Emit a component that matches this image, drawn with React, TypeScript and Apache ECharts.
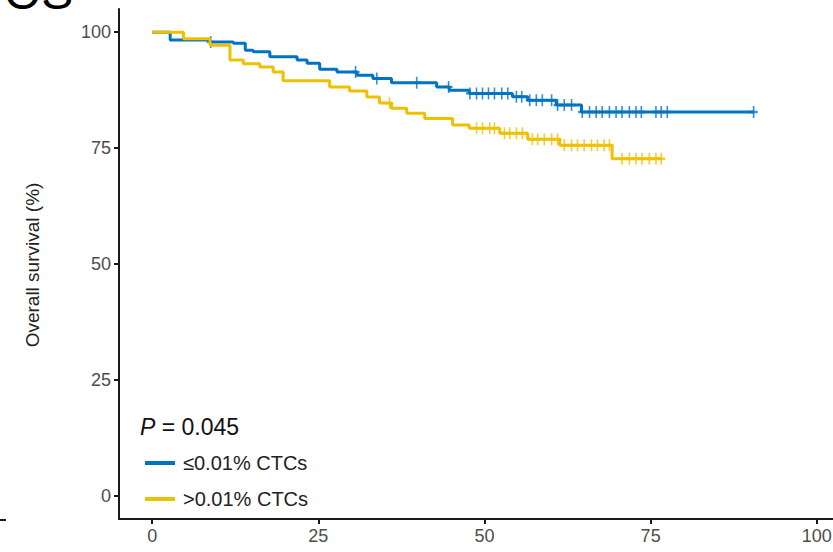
import React, { useEffect, useRef } from "react";
import * as echarts from "echarts";

// Kaplan–Meier steps: time (months) at which survival drops, and survival (%) after the drop
const lowTimes = [0, 2.7, 8.7, 12.2, 14.0, 15.2, 17.7, 21.8, 23.3, 25.2, 27.8, 30.8, 33.2, 36.0, 42.8, 44.7, 47.7, 54.2, 56.5, 60.8, 64.6];
const lowSurv = [100, 98.3, 97.9, 97.6, 96.1, 95.8, 94.7, 94.0, 93.3, 92.0, 91.4, 90.7, 90.0, 89.1, 88.2, 87.5, 86.8, 86.1, 85.3, 84.3, 82.8];
const lowLastTime = 90.5;
const lowCensor = [8.8, 30.6, 33.8, 39.8, 44.6, 47.8, 48.8, 49.7, 50.6, 51.5, 52.6, 53.5, 54.8, 55.6, 56.8, 57.8, 58.7, 60.1, 61.0, 62.0, 63.1, 64.7, 65.8, 66.8, 67.7, 68.8, 69.8, 70.7, 71.8, 72.8, 73.6, 75.8, 76.6, 77.5, 90.5];

const highTimes = [0, 4.7, 8.7, 11.7, 13.7, 16.2, 18.2, 19.7, 26.7, 29.7, 32.3, 34.2, 36.0, 38.3, 41.0, 45.2, 47.7, 52.3, 56.5, 61.3, 69.2];
const highSurv = [100, 98.6, 97.2, 94.0, 93.2, 92.5, 91.4, 89.5, 88.2, 87.3, 86.0, 84.7, 83.6, 82.5, 81.4, 80.0, 79.3, 78.2, 76.9, 75.6, 72.7];
const highLastTime = 76.7;
const highCensor = [35.7, 48.8, 49.7, 50.8, 51.5, 53.0, 53.8, 54.8, 55.7, 57.2, 58.0, 59.0, 60.1, 61.0, 62.0, 63.1, 64.0, 65.0, 66.1, 67.0, 68.0, 68.8, 70.7, 71.8, 72.8, 73.7, 74.8, 75.8, 76.6];

const groupNames = ["≤0.01% CTCs", ">0.01% CTCs"];
const groupColors = ["#0073C2", "#EFC000"];
const tickValues = [0, 25, 50, 75, 100];
const pValueText = "0.045";
const yTitle = "Overall survival (%)";

const FONT = "'Liberation Sans', Arial, Helvetica, sans-serif";
const AXIS_COLOR = "#1a1a1a";
const PLUS = "path://M4,0H6V4H10V6H6V10H4V6H0V4H4Z";

function stepData(times: number[], surv: number[], last: number) {
  const pts = times.map((t, i) => [t, surv[i]]);
  pts.push([last, surv[surv.length - 1]]);
  return pts;
}

function survAt(times: number[], surv: number[], t: number) {
  let s = surv[0];
  for (let i = 0; i < times.length; i++) {
    if (times[i] <= t) s = surv[i];
  }
  return s;
}

function censorData(censor: number[], times: number[], surv: number[]) {
  return censor.map((t) => [t, survAt(times, surv, t)]);
}

function axisCommon() {
  return {
    type: "value" as const,
    min: -5,
    max: 105,
    splitLine: { show: false },
    axisLine: { show: true, onZero: false, lineStyle: { color: AXIS_COLOR, width: 2 } },
    axisTick: { show: true, customValues: tickValues, length: 5, lineStyle: { color: AXIS_COLOR, width: 2 } },
    axisLabel: {
      customValues: tickValues,
      color: "#4d4d4d",
      fontSize: 18,
      fontFamily: FONT,
      margin: 8,
      formatter: (v: number) => String(v),
    },
  };
}

export default function App() {
  const ref = useRef<HTMLDivElement>(null);

  useEffect(() => {
    if (!ref.current) return;
    const chart = echarts.init(ref.current, undefined, { renderer: "svg" });

    const lineSeries = (idx: number, times: number[], surv: number[], last: number) => ({
      type: "line",
      name: groupNames[idx],
      step: "end",
      data: stepData(times, surv, last),
      showSymbol: false,
      symbol: "none",
      color: groupColors[idx],
      lineStyle: { width: 3, color: groupColors[idx] },
      z: 3 + idx,
    });

    const censorSeries = (idx: number, censor: number[], times: number[], surv: number[]) => ({
      type: "scatter",
      name: groupNames[idx] + " censored",
      data: censorData(censor, times, surv),
      symbol: PLUS,
      symbolSize: [8, 12],
      itemStyle: { color: groupColors[idx] },
      z: 3 + idx,
    });

    chart.setOption({
      animation: false,
      grid: { left: 119, top: 9, width: 731, height: 510, containLabel: false },
      xAxis: axisCommon(),
      yAxis: axisCommon(),
      legend: {
        data: groupNames,
        orient: "vertical",
        left: 140,
        top: 448,
        icon: "rect",
        itemWidth: 30,
        itemHeight: 4,
        itemGap: 16,
        textStyle: { fontSize: 20, fontFamily: FONT, color: "#222", lineHeight: 20, padding: [0, 0, 0, 3] },
      },
      series: [
        lineSeries(0, lowTimes, lowSurv, lowLastTime),
        lineSeries(1, highTimes, highSurv, highLastTime),
        censorSeries(0, lowCensor, lowTimes, lowSurv),
        censorSeries(1, highCensor, highTimes, highSurv),
      ],
      graphic: [
        {
          type: "text",
          left: 140,
          top: 415,
          style: {
            text: "{i|P} = " + pValueText,
            fontSize: 23,
            fontFamily: FONT,
            fill: "#111",
            rich: { i: { fontStyle: "italic", fontSize: 23, fontFamily: FONT, fill: "#111" } },
          },
        },
        {
          type: "text",
          x: 32,
          y: 265,
          rotation: Math.PI / 2,
          style: {
            text: yTitle,
            fontSize: 19,
            fontFamily: FONT,
            fill: "#222",
            align: "center",
            verticalAlign: "middle",
          },
        },
        {
          type: "text",
          x: 4,
          y: -8,
          style: {
            text: "OS",
            fontSize: 48,
            fontFamily: FONT,
            fill: "#000",
            align: "left",
            verticalAlign: "middle",
          },
        },
        {
          type: "line",
          shape: { x1: 0, y1: 520, x2: 6, y2: 520 },
          style: { stroke: AXIS_COLOR, lineWidth: 2 },
        },
      ],
    });

    return () => chart.dispose();
  }, []);

  // The plot's right edge runs past the visible frame, so the chart is wider than its clipping box.
  return (
    <div style={{ position: "absolute", left: 0, top: 0, width: 833, height: 552, overflow: "hidden", background: "#fff" }}>
      <div ref={ref} style={{ width: 870, height: 552 }} />
    </div>
  );
}
